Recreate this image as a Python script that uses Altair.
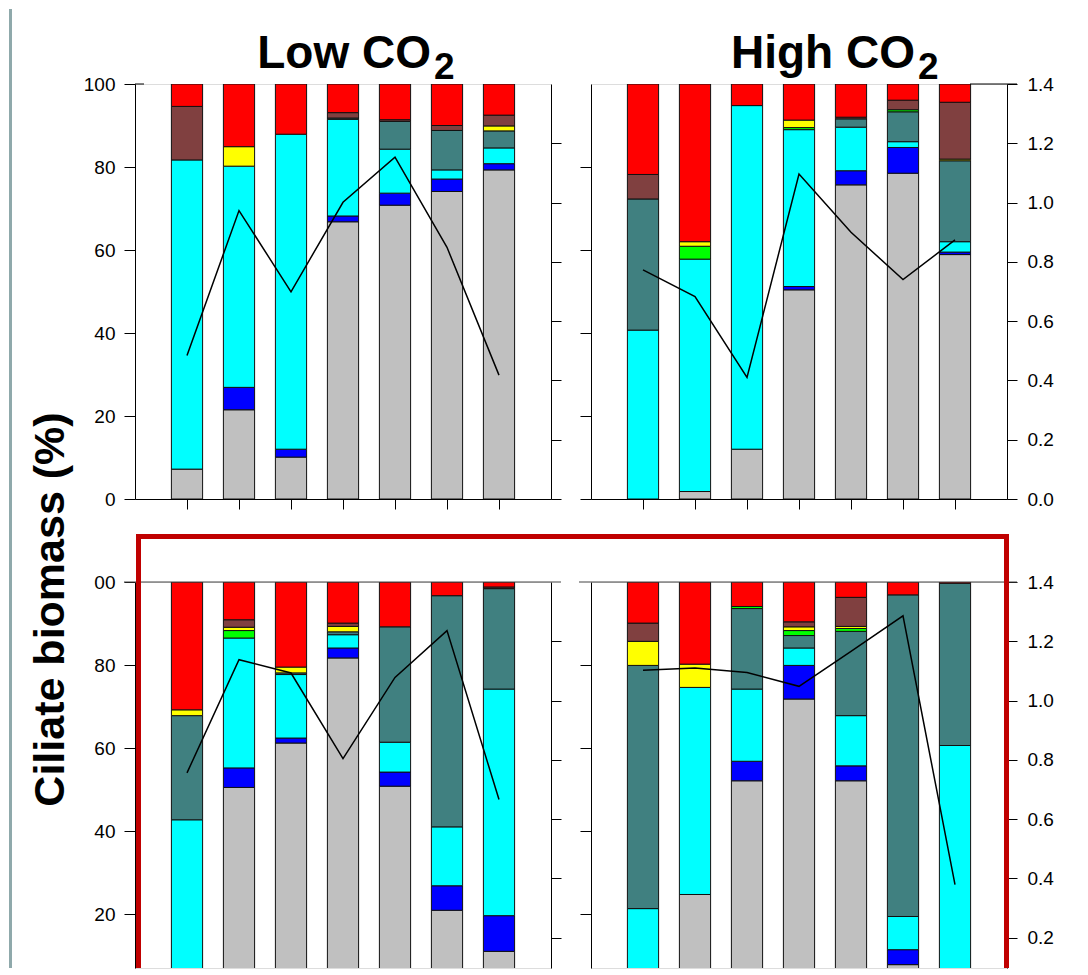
import altair as alt
import pandas as pd

FONT = "Liberation Sans"

positions = [1, 2, 3, 4, 5, 6, 7]
groups = ["grey", "blue", "cyan", "teal", "green", "yellow", "brown", "red"]
colors = ["#c0c0c0", "#0000ff", "#00ffff", "#408080", "#00ff00", "#ffff00", "#804040", "#ff0000"]

# segment heights (% of ciliate biomass), bottom to top, bars 1..7
low_top = {
    "grey":   [7.2, 21.5, 10.1, 66.8, 70.8, 74.1, 79.3],
    "blue":   [0, 5.4, 1.9, 1.4, 2.9, 3.0, 1.5],
    "cyan":   [74.5, 53.3, 75.9, 23.3, 10.6, 2.2, 3.8],
    "teal":   [0, 0, 0, 0.3, 6.7, 9.5, 4.1],
    "green":  [0, 0, 0, 0, 0, 0, 0],
    "yellow": [0, 4.7, 0, 0, 0, 0, 1.2],
    "brown":  [12.9, 0, 0, 1.3, 0.4, 1.2, 2.6],
    "red":    [5.4, 15.1, 12.1, 6.9, 8.6, 10.0, 7.5],
}
high_top = {
    "grey":   [0, 1.8, 12.0, 50.4, 75.7, 78.5, 58.9],
    "blue":   [0, 0, 0, 0.8, 3.4, 6.2, 0.6],
    "cyan":   [40.7, 56.0, 82.8, 37.8, 10.5, 1.4, 2.5],
    "teal":   [31.6, 0, 0, 0, 2.0, 7.2, 19.5],
    "green":  [0, 3.1, 0, 0.5, 0, 0.5, 0],
    "yellow": [0, 1.1, 0, 1.8, 0, 0, 0.4],
    "brown":  [5.9, 0, 0, 0, 0.4, 2.3, 13.7],
    "red":    [21.8, 38.0, 5.2, 8.7, 8.0, 3.9, 4.4],
}
low_bottom = {
    "grey":   [0, 50.5, 61.2, 81.7, 50.8, 20.9, 11.0],
    "blue":   [0, 4.7, 1.2, 2.4, 3.4, 5.9, 8.6],
    "cyan":   [42.7, 31.3, 15.3, 3.2, 7.2, 14.2, 54.6],
    "teal":   [25.1, 0, 0.4, 0.7, 27.8, 55.7, 24.2],
    "green":  [0, 1.8, 0, 0, 0, 0, 0],
    "yellow": [1.4, 0.8, 1.4, 1.3, 0, 0, 0],
    "brown":  [0, 1.8, 0, 0.8, 0, 0, 0.4],
    "red":    [30.8, 9.1, 20.5, 9.9, 10.8, 3.3, 1.2],
}
high_bottom = {
    "grey":   [0, 24.7, 52.1, 71.8, 52.1, 7.8, 0],
    "blue":   [0, 0, 4.7, 8.1, 3.6, 3.6, 0],
    "cyan":   [21.3, 49.9, 17.4, 4.2, 12.1, 8.0, 60.6],
    "teal":   [58.6, 0, 19.4, 3.0, 20.3, 77.5, 39.1],
    "green":  [0, 0, 0.5, 1.2, 0.7, 0, 0],
    "yellow": [5.8, 5.6, 0, 0.9, 0.5, 0, 0],
    "brown":  [4.4, 0, 0, 1.2, 7.0, 0, 0],
    "red":    [9.9, 19.8, 5.9, 9.6, 3.7, 3.1, 0.3],
}

# right-axis line series
line_low_top = [0.484, 0.973, 0.699, 1.001, 1.153, 0.849, 0.418]
line_high_top = [0.773, 0.683, 0.410, 1.096, 0.900, 0.740, 0.874]
line_low_bottom = [0.756, 1.138, 1.093, 0.804, 1.078, 1.236, 0.666]
line_high_bottom = [1.102, 1.110, 1.095, 1.048, 1.166, 1.286, 0.379]

left_ticks = [0, 20, 40, 60, 80, 100]
right_ticks = [0.0, 0.2, 0.4, 0.6, 0.8, 1.0, 1.2, 1.4]

# ---- layout ----
W = 416
TOP_H = 415
BOT_H = 386
PX_PER_PCT = TOP_H / 100.0
bot_ymin = 100 - BOT_H / PX_PER_PCT
bot_rmin = 1.4 - BOT_H * 1.4 / TOP_H

one = pd.DataFrame({"k": [0]})
xscale = alt.Scale(domain=[0, 8], nice=False, zero=False)


def seg_frame(segs):
    rows = []
    for i, p in enumerate(positions):
        base = 0.0
        for g in groups:
            h = segs[g][i]
            if h > 0:
                rows.append({"pos": p, "group": g, "y0": base, "y1": base + h})
            base += h
    return pd.DataFrame(rows)


def txt(t, x, y, size, align):
    return alt.Chart(one).mark_text(
        text=t, font=FONT, fontSize=size, fontWeight="bold", align=align,
        baseline="alphabetic", color="black"
    ).encode(x=alt.value(x), y=alt.value(y))


def rule(x, x2, y, y2, color="black", w=1.0):
    return alt.Chart(one).mark_rule(color=color, strokeWidth=w).encode(
        x=alt.value(x), x2=alt.value(x2), y=alt.value(y), y2=alt.value(y2))


def box(x, x2, y, y2, color):
    return alt.Chart(one).mark_rect(color=color).encode(
        x=alt.value(x), x2=alt.value(x2), y=alt.value(y), y2=alt.value(y2))


def axis_left(values, labels, title=None, label_expr=None, **kw):
    d = dict(values=values, labels=labels, tickSize=11, tickColor="black",
             domainColor="black", grid=False, labelFont=FONT, labelFontSize=19,
             labelColor="black", labelPadding=9, title=title)
    if label_expr:
        d["labelExpr"] = label_expr
    d.update(kw)
    return alt.Axis(**d)


def axis_right(values, labels):
    return alt.Axis(orient="right", values=values, labels=labels, tickSize=10,
                    tickColor="black", domainColor="black", grid=False,
                    labelFont=FONT, labelFontSize=19, labelColor="black",
                    labelPadding=10, format=".1f", title=None)


x_axis_top = alt.Axis(values=positions, labels=False, tickSize=10, tickColor="black",
                      domainColor="black", grid=False, title=None)


def panel(segs, line_vals, height, ydom, rdom, laxis, raxis, xaxis, extras):
    df = seg_frame(segs)
    bars = alt.Chart(df).transform_calculate(
        x0="datum.pos - 0.3", x1="datum.pos + 0.3"
    ).mark_rect(stroke="#111111", strokeWidth=1, clip=True).encode(
        x=alt.X("x0:Q", scale=xscale, axis=xaxis),
        x2="x1:Q",
        y=alt.Y("y0:Q", scale=alt.Scale(domain=ydom, nice=False, zero=False), axis=laxis),
        y2="y1:Q",
        color=alt.Color("group:N", scale=alt.Scale(domain=groups, range=colors), legend=None),
    )
    ldf = pd.DataFrame({"pos": positions, "val": line_vals})
    line = alt.Chart(ldf).mark_line(color="black", strokeWidth=1.5, clip=True).encode(
        x=alt.X("pos:Q", scale=xscale, axis=xaxis),
        y=alt.Y("val:Q", scale=alt.Scale(domain=rdom, nice=False, zero=False), axis=raxis),
    )
    return alt.layer(bars, line, *extras).resolve_scale(y="independent").properties(
        width=W, height=height)


tl = panel(
    low_top, line_low_top, TOP_H, [0, 100], [0, 1.4],
    axis_left(left_ticks, True, title="Ciliate biomass (%)", titleX=-72, titleY=525,
              titleAngle=270, titleAlign="center", titleBaseline="alphabetic",
              titleFont=FONT, titleFontSize=43, titleFontWeight="bold", titleColor="black"),
    axis_right(right_ticks[:-1], False),
    x_axis_top,
    [box(-126, -123, -75, 884, "#8fa9ab"),
     rule(0, 9, 0, 0),
     txt("Low CO", 296, -16, 46, "right"),
     txt("2", 299, -5, 37, "left")],
)
tr = panel(
    high_top, line_high_top, TOP_H, [0, 100], [0, 1.4],
    axis_left(left_ticks[:-1], False),
    axis_right(right_ticks, True),
    x_axis_top,
    [rule(379, 426, 0, 0),
     txt("High CO", 324, -16, 46, "right"),
     txt("2", 327, -5, 37, "left")],
)
bl = panel(
    low_bottom, line_low_bottom, BOT_H, [bot_ymin, 100], [bot_rmin, 1.4],
    axis_left(left_ticks[1:], True, label_expr="datum.value == 100 ? '00' : datum.label"),
    axis_right(right_ticks[1:-1], False),
    None,
    [rule(-11, 426, 0, 0, "#444444", 1),
     rule(3.5, 3.5, -48, BOT_H, "#c00000", 5),
     rule(1, 874, -45.5, -45.5, "#c00000", 5)],
)
br = panel(
    high_bottom, line_high_bottom, BOT_H, [bot_ymin, 100], [bot_rmin, 1.4],
    axis_left(left_ticks[1:-1], False),
    axis_right(right_ticks[1:], True),
    None,
    [rule(-12, 426, 0, 0, "#444444", 1),
     rule(415.5, 415.5, -48, BOT_H, "#c00000", 5)],
)

chart = alt.concat(
    tl, tr, bl, br, columns=2, spacing={"row": 83, "column": 40}, bounds="flush"
).properties(padding=0).configure_view(stroke=None).configure(background="white")

chart.save("out.html", embed_options={"renderer": "svg", "actions": False})
